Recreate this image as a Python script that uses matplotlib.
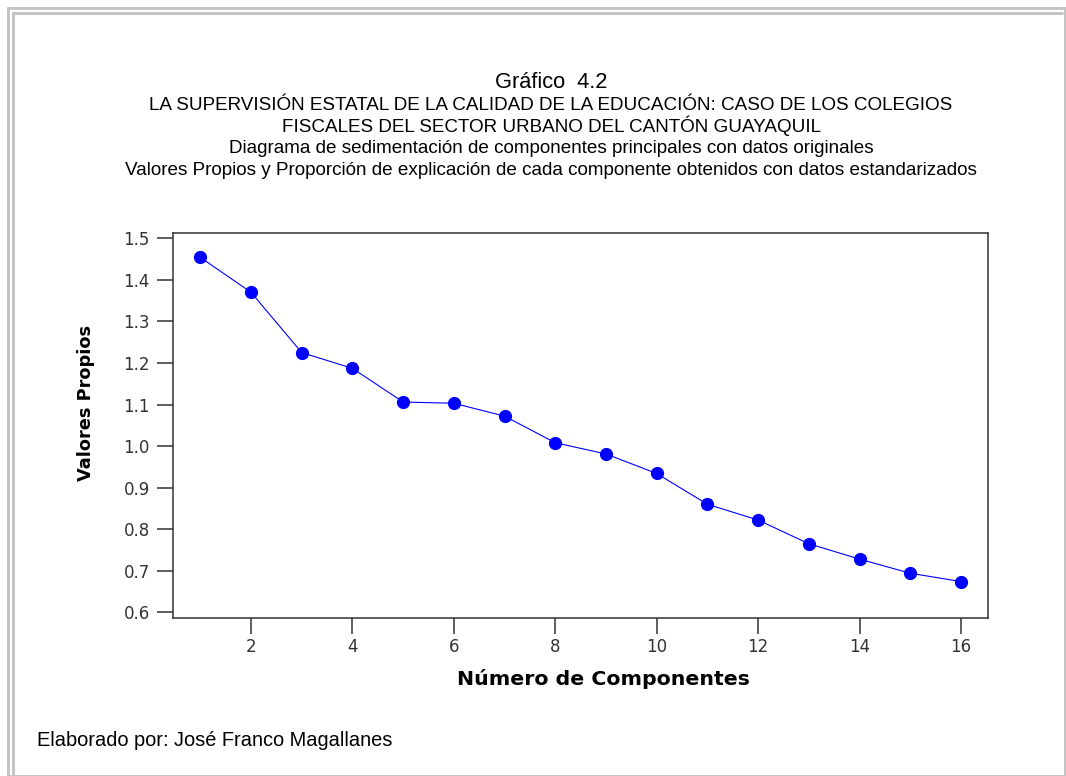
import matplotlib
matplotlib.use("Agg")
import matplotlib.pyplot as plt
from matplotlib.ticker import FixedLocator, FormatStrFormatter

# ---- data ----
componentes = list(range(1, 17))
valores_propios = [1.454, 1.370, 1.225, 1.187, 1.106, 1.103, 1.072, 1.008,
                   0.981, 0.934, 0.860, 0.822, 0.765, 0.728, 0.694, 0.674]
x_ticks = [2, 4, 6, 8, 10, 12, 14, 16]
y_ticks = [0.6, 0.7, 0.8, 0.9, 1.0, 1.1, 1.2, 1.3, 1.4, 1.5]

title_lines = [
    "Gráfico  4.2",
    "LA SUPERVISIÓN ESTATAL DE LA CALIDAD DE LA EDUCACIÓN: CASO DE LOS COLEGIOS",
    "FISCALES DEL SECTOR URBANO DEL CANTÓN GUAYAQUIL",
    "Diagrama de sedimentación de componentes principales con datos originales",
    "Valores Propios y Proporción de explicación de cada componente obtenidos con datos estandarizados",
]
xlabel = "Número de Componentes"
ylabel = "Valores Propios"
footer = "Elaborado por: José Franco Magallanes"

W, H = 1066, 776
fig = plt.figure(figsize=(W / 100, H / 100), dpi=100, facecolor="white")

# overlay in pixel coordinates for texts / frame
ov = fig.add_axes([0, 0, 1, 1], zorder=0)
ov.set_xlim(0, W)
ov.set_ylim(H, 0)
ov.axis("off")

px = 0.72  # points per pixel
border = "#c4c4c4"
lw = 3 * px
ov.plot([7, W], [8, 8], color=border, lw=lw, solid_capstyle="butt")
ov.plot([8, 8], [7, H], color=border, lw=lw, solid_capstyle="butt")
ov.plot([12, 1063], [13, 13], color=border, lw=lw, solid_capstyle="butt")
ov.plot([13, 13], [12, H], color=border, lw=lw, solid_capstyle="butt")
ov.plot([1064.5, 1064.5], [7, H], color=border, lw=lw, solid_capstyle="butt")
ov.plot([7, W], [775.5, 775.5], color=border, lw=lw, solid_capstyle="butt")

# main axes
L, R, T, B = 173.3, 988.3, 233.3, 617.7
ax = fig.add_axes([L / W, (H - B) / H, (R - L) / W, (B - T) / H], zorder=1)
ax.plot(componentes, valores_propios, color="#0000ff", lw=0.8,
        marker="o", markersize=8.5, markerfacecolor="#0000ff",
        markeredgecolor="#0000ff")
ax.set_xlim(0.467, 16.54)
ax.set_ylim(0.587, 1.512)
ax.xaxis.set_major_locator(FixedLocator(x_ticks))
ax.yaxis.set_major_locator(FixedLocator(y_ticks))
ax.yaxis.set_major_formatter(FormatStrFormatter("%.1f"))
for s in ax.spines.values():
    s.set_color("#333333")
    s.set_linewidth(1.1)
ax.tick_params(axis="both", direction="out", length=11.5, width=1.1,
               color="#333333", labelcolor="#333333", labelsize=12)
ax.tick_params(axis="y", pad=5.5)
ax.tick_params(axis="x", pad=3)
for lab in ax.get_xticklabels() + ax.get_yticklabels():
    lab.set_family("DejaVu Sans")

renderer = fig.canvas.get_renderer()


def fit(t, target, vertical=False):
    bb = t.get_window_extent(renderer)
    cur = bb.height if vertical else bb.width
    t.set_fontsize(t.get_fontsize() * target / cur)


# titles
cx = 551
t1 = ov.text(cx, 88.5, title_lines[0], ha="center", va="baseline",
             family="Liberation Sans", fontsize=15)
fit(t1, 112)
t2 = ov.text(cx, 110, title_lines[1], ha="center", va="baseline",
             family="Liberation Sans", fontsize=13)
fit(t2, 803)
fs = t2.get_fontsize()
for i, ln in enumerate(title_lines[2:]):
    ov.text(cx, 110 + 21.7 * (i + 1), ln, ha="center", va="baseline",
            family="Liberation Sans", fontsize=fs)

# axis labels
tx = ov.text(603.3, 685, xlabel, ha="center", va="baseline",
             family="DejaVu Sans", weight="bold", fontsize=14)
fit(tx, 293)
ty = ov.text(86, 403.3, ylabel, ha="center", va="center", rotation=90,
             family="DejaVu Sans", weight="bold", fontsize=11.5)
fit(ty, 157, vertical=True)

# footer
ov.text(36.7, 746, footer, ha="left", va="baseline",
        family="Liberation Sans", fontsize=14.4)

fig.savefig("out.png", dpi=100, facecolor="white")
